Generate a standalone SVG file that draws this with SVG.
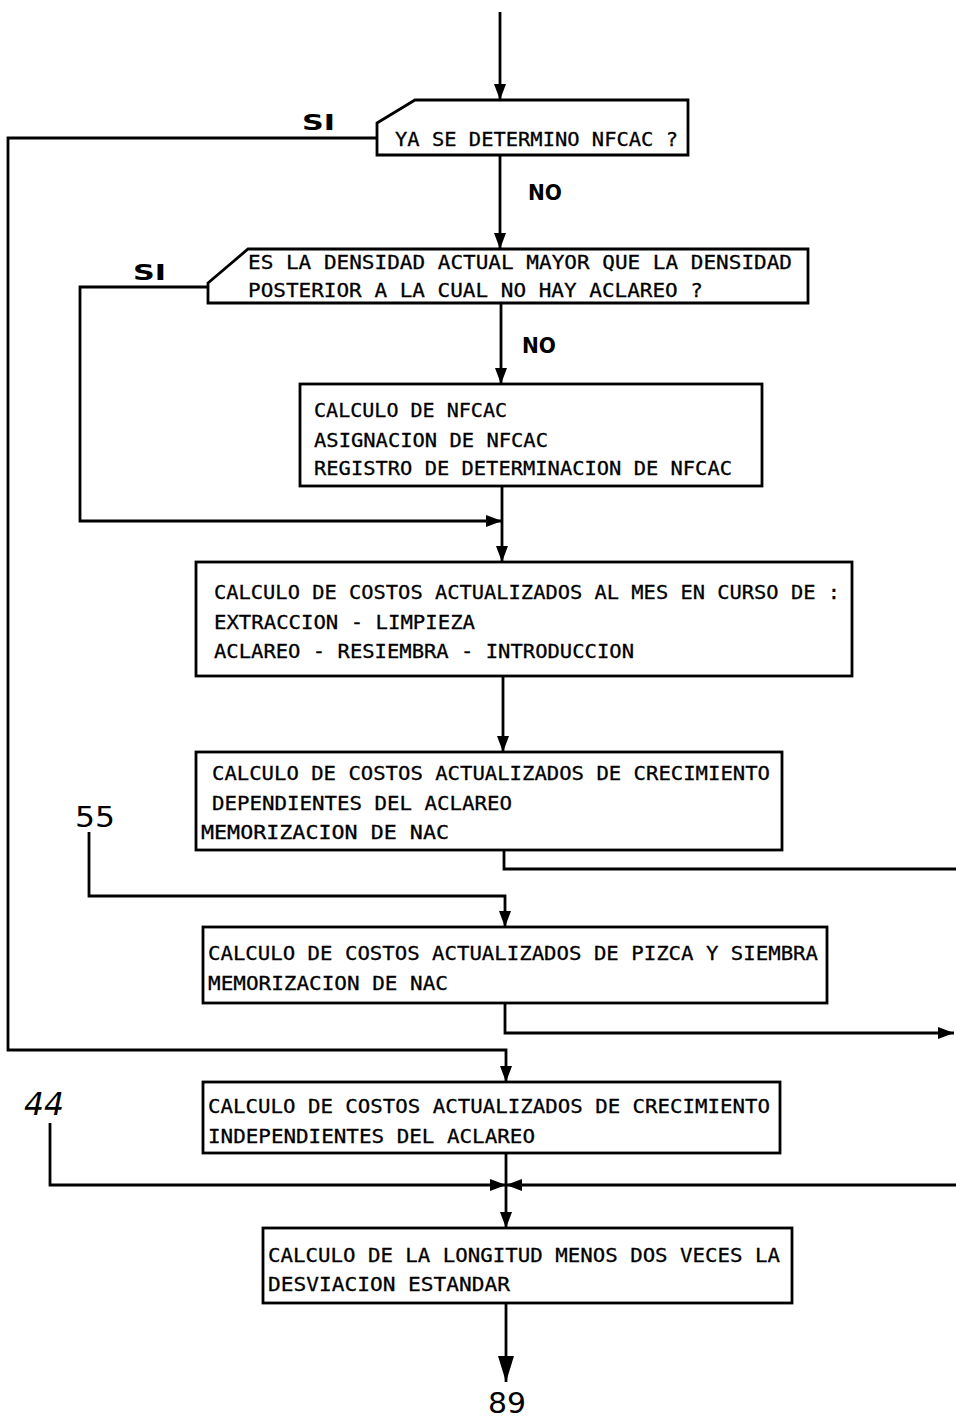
<svg xmlns="http://www.w3.org/2000/svg" width="956" height="1422" viewBox="0 0 956 1422">
  <style>
    .bg { fill: #ffffff; }
    .box { fill: #ffffff; stroke: #000000; stroke-width: 2.8; stroke-linejoin: miter; }
    .wire { fill: none; stroke: #000000; stroke-width: 2.8; stroke-linejoin: miter; }
    .txt { font-family: "DejaVu Sans Mono", "Liberation Mono", monospace; font-size: 20px; fill: #000000; stroke: #000000; stroke-width: 0.3; }
    .lbl { font-family: "DejaVu Sans", "Liberation Sans", sans-serif; font-size: 21px; font-weight: bold; fill: #000000; }
    .ref { font-family: "DejaVu Sans", "Liberation Sans", sans-serif; font-size: 28px; fill: #000000; }
    .hand { font-family: "DejaVu Sans", "Liberation Sans", sans-serif; font-size: 32px; font-style: italic; fill: #000000; }
  </style>
  <defs>
    <marker id="arrow" markerUnits="userSpaceOnUse" markerWidth="18" markerHeight="14" refX="16" refY="7" orient="auto">
      <path d="M0,1 L16,7 L0,13 Z" fill="#000000"/>
    </marker>
    <marker id="arrowBig" markerUnits="userSpaceOnUse" markerWidth="28" markerHeight="18" refX="26" refY="9" orient="auto">
      <path d="M0,1 L26,9 L0,17 Z" fill="#000000"/>
    </marker>
  </defs>

  <rect class="bg" x="0" y="0" width="956" height="1422"/>

  <!-- connectors -->
  <g id="connectors">
    <!-- entry -->
    <line class="wire" x1="500" y1="12" x2="500" y2="100" marker-end="url(#arrow)"/>
    <!-- decision 1 NO -> decision 2 -->
    <line class="wire" x1="500" y1="155" x2="500" y2="249" marker-end="url(#arrow)"/>
    <!-- decision 1 SI -> far left bus -> box 5 -->
    <polyline class="wire" points="377,138 8,138 8,1050 506,1050 506,1082" marker-end="url(#arrow)"/>
    <!-- decision 2 NO -> box 1 -->
    <line class="wire" x1="501" y1="303" x2="501" y2="384" marker-end="url(#arrow)"/>
    <!-- decision 2 SI -> merge before box 2 -->
    <polyline class="wire" points="208,287 80,287 80,521 502,521" marker-end="url(#arrow)"/>
    <!-- box 1 -> box 2 -->
    <line class="wire" x1="502" y1="486" x2="502" y2="562" marker-end="url(#arrow)"/>
    <!-- box 2 -> box 3 -->
    <line class="wire" x1="503" y1="676" x2="503" y2="752" marker-end="url(#arrow)"/>
    <!-- box 3 exit to the right -->
    <polyline class="wire" points="504,850 504,869 956,869"/>
    <!-- entry 55 -> box 4 -->
    <polyline class="wire" points="89,832 89,896 505,896 505,927" marker-end="url(#arrow)"/>
    <!-- box 4 exit to the right -->
    <polyline class="wire" points="505,1003 505,1033 954,1033" marker-end="url(#arrow)"/>
    <!-- box 5 -> box 6 -->
    <line class="wire" x1="506" y1="1153" x2="506" y2="1228" marker-end="url(#arrow)"/>
    <!-- entry 44 -> merge -->
    <polyline class="wire" points="50,1123 50,1185 506,1185" marker-end="url(#arrow)"/>
    <!-- return from right -> merge -->
    <line class="wire" x1="956" y1="1185" x2="506" y2="1185" marker-end="url(#arrow)"/>
    <!-- box 6 -> exit 89 -->
    <line class="wire" x1="506" y1="1303" x2="506" y2="1382" marker-end="url(#arrowBig)"/>
  </g>

  <!-- decision: ya se determino NFCAC -->
  <g id="decision-nfcac">
    <polygon class="box" points="377,123 415,100 688,100 688,155 377,155"/>
    <text class="txt" x="395" y="146" textLength="283" lengthAdjust="spacingAndGlyphs">YA SE DETERMINO NFCAC ?</text>
  </g>

  <!-- decision: densidad actual -->
  <g id="decision-densidad">
    <polygon class="box" points="208,283 248,249 808,249 808,303 208,303"/>
    <text class="txt" x="248" y="269" textLength="544" lengthAdjust="spacingAndGlyphs">ES LA DENSIDAD ACTUAL MAYOR QUE LA DENSIDAD</text>
    <text class="txt" x="248" y="297" textLength="455" lengthAdjust="spacingAndGlyphs">POSTERIOR A LA CUAL NO HAY ACLAREO ?</text>
  </g>

  <!-- process: calculo de NFCAC -->
  <g id="box-nfcac">
    <rect class="box" x="300" y="384" width="462" height="102"/>
    <text class="txt" x="314" y="417" textLength="193" lengthAdjust="spacingAndGlyphs">CALCULO DE NFCAC</text>
    <text class="txt" x="314" y="447" textLength="234" lengthAdjust="spacingAndGlyphs">ASIGNACION DE NFCAC</text>
    <text class="txt" x="314" y="475" textLength="418" lengthAdjust="spacingAndGlyphs">REGISTRO DE DETERMINACION DE NFCAC</text>
  </g>

  <!-- process: costos al mes en curso -->
  <g id="box-mes-en-curso">
    <rect class="box" x="196" y="562" width="656" height="114"/>
    <text class="txt" x="214" y="599" textLength="626" lengthAdjust="spacingAndGlyphs">CALCULO DE COSTOS ACTUALIZADOS AL MES EN CURSO DE :</text>
    <text class="txt" x="214" y="629" textLength="261" lengthAdjust="spacingAndGlyphs">EXTRACCION - LIMPIEZA</text>
    <text class="txt" x="214" y="658" textLength="420" lengthAdjust="spacingAndGlyphs">ACLAREO - RESIEMBRA - INTRODUCCION</text>
  </g>

  <!-- process: crecimiento dependiente -->
  <g id="box-dependientes">
    <rect class="box" x="196" y="752" width="586" height="98"/>
    <text class="txt" x="212" y="780" textLength="558" lengthAdjust="spacingAndGlyphs">CALCULO DE COSTOS ACTUALIZADOS DE CRECIMIENTO</text>
    <text class="txt" x="212" y="810" textLength="300" lengthAdjust="spacingAndGlyphs">DEPENDIENTES DEL ACLAREO</text>
    <text class="txt" x="201" y="839" textLength="248" lengthAdjust="spacingAndGlyphs">MEMORIZACION DE NAC</text>
  </g>

  <!-- process: pizca y siembra -->
  <g id="box-pizca">
    <rect class="box" x="203" y="927" width="624" height="76"/>
    <text class="txt" x="208" y="960" textLength="610" lengthAdjust="spacingAndGlyphs">CALCULO DE COSTOS ACTUALIZADOS DE PIZCA Y SIEMBRA</text>
    <text class="txt" x="208" y="990" textLength="240" lengthAdjust="spacingAndGlyphs">MEMORIZACION DE NAC</text>
  </g>

  <!-- process: crecimiento independiente -->
  <g id="box-independientes">
    <rect class="box" x="203" y="1082" width="577" height="71"/>
    <text class="txt" x="208" y="1113" textLength="562" lengthAdjust="spacingAndGlyphs">CALCULO DE COSTOS ACTUALIZADOS DE CRECIMIENTO</text>
    <text class="txt" x="208" y="1143" textLength="327" lengthAdjust="spacingAndGlyphs">INDEPENDIENTES DEL ACLAREO</text>
  </g>

  <!-- process: longitud menos dos desviaciones -->
  <g id="box-longitud">
    <rect class="box" x="263" y="1228" width="529" height="75"/>
    <text class="txt" x="268" y="1262" textLength="512" lengthAdjust="spacingAndGlyphs">CALCULO DE LA LONGITUD MENOS DOS VECES LA</text>
    <text class="txt" x="268" y="1291" textLength="242" lengthAdjust="spacingAndGlyphs">DESVIACION ESTANDAR</text>
  </g>

  <!-- branch and off-page labels -->
  <g id="labels">
    <text class="lbl" x="302" y="130" textLength="33" lengthAdjust="spacingAndGlyphs">SI</text>
    <text class="lbl" x="528" y="200" textLength="34" lengthAdjust="spacingAndGlyphs">NO</text>
    <text class="lbl" x="133" y="280" textLength="33" lengthAdjust="spacingAndGlyphs">SI</text>
    <text class="lbl" x="522" y="353" textLength="34" lengthAdjust="spacingAndGlyphs">NO</text>
    <text class="ref" x="75" y="827" textLength="40" lengthAdjust="spacingAndGlyphs">55</text>
    <text class="hand" x="24" y="1115" textLength="40" lengthAdjust="spacingAndGlyphs">44</text>
    <text class="ref" x="488" y="1413" textLength="38" lengthAdjust="spacingAndGlyphs">89</text>
  </g>
</svg>
